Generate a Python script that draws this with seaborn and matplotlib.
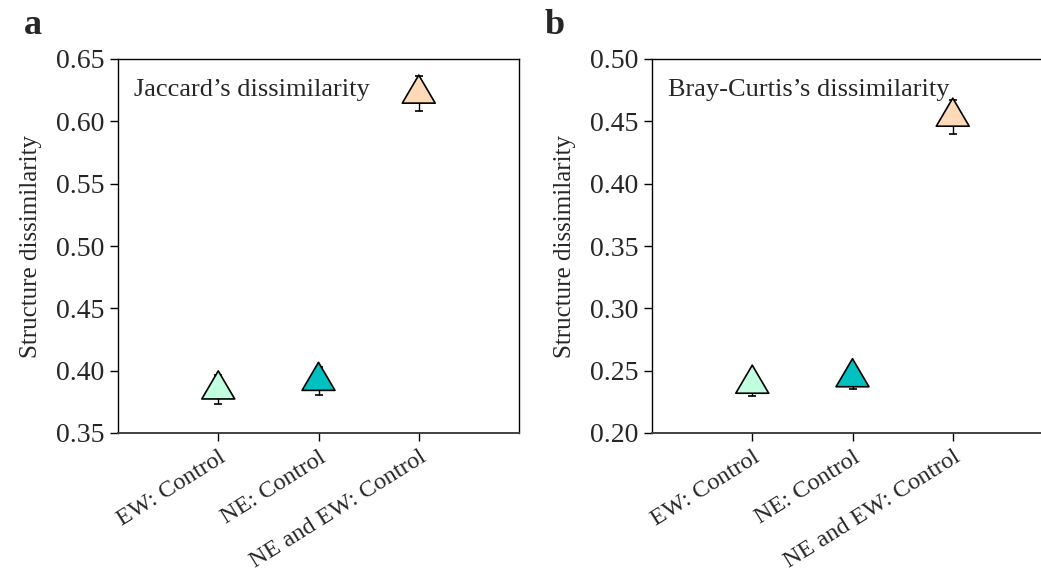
import numpy as np
import pandas as pd
import matplotlib
matplotlib.use("Agg")
import matplotlib.pyplot as plt
from matplotlib.path import Path
import seaborn as sns

# ---- data ----
groups = ["EW: Control", "NE: Control", "NE and EW: Control"]
jaccard_mean = [0.3848, 0.3917, 0.6221]
jaccard_se = [0.0115, 0.0114, 0.0141]
bray_mean = [0.2394, 0.2446, 0.4536]
bray_se = [0.0097, 0.0092, 0.0135]
colors = ["#C0FFE0", "#00C0C0", "#FFDAB9"]
panel_titles = ["Jaccard\u2019s dissimilarity", "Bray-Curtis\u2019s dissimilarity"]
yticks_a = [0.35, 0.40, 0.45, 0.50, 0.55, 0.60, 0.65]
yticks_b = [0.20, 0.25, 0.30, 0.35, 0.40, 0.45, 0.50]

sns.set_style("white")
plt.rcParams["font.family"] = ["Liberation Serif", "DejaVu Serif"]

W, H = 1041, 581
fig = plt.figure(figsize=(W / 100, H / 100), dpi=100)

# triangle marker with centroid at origin
tri = Path([(0, 1.0), (-0.88, -0.5), (0.88, -0.5), (0, 1.0)],
           [Path.MOVETO, Path.LINETO, Path.LINETO, Path.CLOSEPOLY])

def panel(left, means, ses, yticks, title, letter, letter_x):
    ax = fig.add_axes([left / W, (H - 433) / H, 401 / W, 374 / H])
    pos = np.arange(1, len(groups) + 1)
    df = pd.DataFrame({"x": pos, "y": means, "g": groups})
    ax.errorbar(df["x"], df["y"], yerr=ses, fmt="none", ecolor="black",
                elinewidth=1.0, capsize=3.0, capthick=1.2, zorder=2)
    sns.scatterplot(data=df, x="x", y="y", hue="g", palette=colors,
                    marker=tri, s=725, edgecolor="black", linewidth=1.2,
                    legend=False, ax=ax, zorder=3)
    ax.set_xlim(0, 4)
    ax.set_ylim(yticks[0], yticks[-1])
    ax.set_yticks(yticks)
    ax.set_yticklabels([f"{v:.2f}" for v in yticks], fontsize=20)
    ax.set_xticks(pos)
    ax.set_xticklabels(groups, fontsize=17.5, rotation=32, ha="right",
                       rotation_mode="anchor")
    ax.tick_params(axis="both", direction="out", length=6, width=1.0,
                   color="black", left=True, bottom=True, pad=4)
    ax.tick_params(axis="x", pad=4)
    ax.set_xlabel("")
    ax.set_ylabel("Structure dissimilarity", fontsize=18, labelpad=10)
    for s in ["left", "top", "right"]:
        ax.spines[s].set_color("black")
        ax.spines[s].set_linewidth(1.0)
    ax.spines["bottom"].set_color("#404040")
    ax.spines["bottom"].set_linewidth(1.4)
    ax.text(0.04, 0.917, title, transform=ax.transAxes, fontsize=19,
            ha="left", va="center")
    fig.text(letter_x / W, 1 - 25 / H, letter, fontsize=26,
             fontweight="bold", ha="left", va="center")
    return ax

panel(118, jaccard_mean, jaccard_se, yticks_a, panel_titles[0], "a", 24)
panel(652, bray_mean, bray_se, yticks_b, panel_titles[1], "b", 545)

fig.savefig("out.png", dpi=100)
